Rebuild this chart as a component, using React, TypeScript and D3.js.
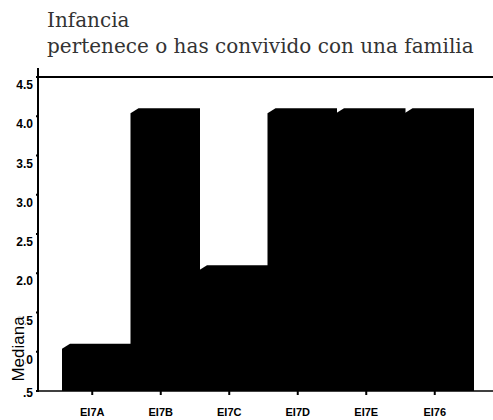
import { scaleBand, scaleLinear } from "d3";

const categories = ["EI7A", "EI7B", "EI7C", "EI7D", "EI7E", "EI76"];
const medians = [1, 4, 2, 4, 4, 4];
const yTicks = [0.5, 1, 1.5, 2, 2.5, 3, 3.5, 4, 4.5];

const W = 493;
const H = 420;

export default function App() {
  const left = 38;
  const top = 77;
  const bottom = 391;

  const x = scaleBand<string>().domain(categories).range([58, 469]).padding(0);
  const y = scaleLinear().domain([0.5, 4.5]).range([bottom, top]);

  // 3D-ish offset of the bars relative to the axis ticks
  const dx = 4;
  const dy = 8;

  const fmt = (v: number) => (v < 1 ? ".5" : v.toFixed(1));

  return (
    <svg
      width={W}
      height={H}
      style={{ position: "absolute", left: 0, top: 0, background: "#fff" }}
    >
      {/* Title */}
      <g fill="#333" fontFamily="DejaVu Serif" fontSize={20}>
        <text x={47} y={27}>Infancia</text>
        <text x={47} y={53}>pertenece o has convivido con una familia</text>
      </g>

      {/* Bars */}
      {categories.map((c, i) => {
        const x0 = x(c)! + dx;
        const x1 = x0 + x.bandwidth() + 1;
        const yT = y(medians[i]) - dy;
        const d = `M${x0},${bottom} L${x0},${yT + 5} L${x0 + 8},${yT} L${x1},${yT} L${x1},${bottom} Z`;
        return <path key={c} d={d} fill="#000" />;
      })}

      {/* Frame */}
      <line x1={left} x2={W} y1={top} y2={top} stroke="#000" strokeWidth={2} />
      <line x1={left} x2={left} y1={top - 9} y2={bottom + 1} stroke="#000" strokeWidth={2} />
      <line x1={left} x2={W} y1={bottom} y2={bottom} stroke="#000" strokeWidth={1.5} />

      {/* Y axis */}
      {yTicks.map((t) => (
        <g key={t}>
          <line x1={left - 2} x2={left} y1={y(t)} y2={y(t)} stroke="#000" strokeWidth={2} />
          <text
            x={33}
            y={y(t) + (t === 0.5 ? 6 : 12)}
            textAnchor="end"
            fontFamily="Liberation Sans, Arial"
            fontWeight="bold"
            fontSize={12}
            fill="#000"
          >
            {fmt(t)}
          </text>
        </g>
      ))}

      {/* Y axis title */}
      <text
        transform={`translate(24,349) rotate(-90)`}
        textAnchor="middle"
        fontFamily="Liberation Sans, Arial"
        fontSize={17}
        fill="#000"
        stroke="#fff"
        strokeWidth={3}
        paintOrder="stroke"
      >
        Mediana
      </text>

      {/* X axis */}
      {categories.map((c) => {
        const cx = x(c)! + x.bandwidth() / 2;
        return (
          <g key={c}>
            <line x1={cx} x2={cx} y1={bottom} y2={bottom + 4} stroke="#000" strokeWidth={2} />
            <text
              x={cx}
              y={416}
              textAnchor="middle"
              fontFamily="Liberation Sans, Arial"
              fontWeight="bold"
              fontSize={11}
              fill="#000"
            >
              {c}
            </text>
          </g>
        );
      })}
    </svg>
  );
}
